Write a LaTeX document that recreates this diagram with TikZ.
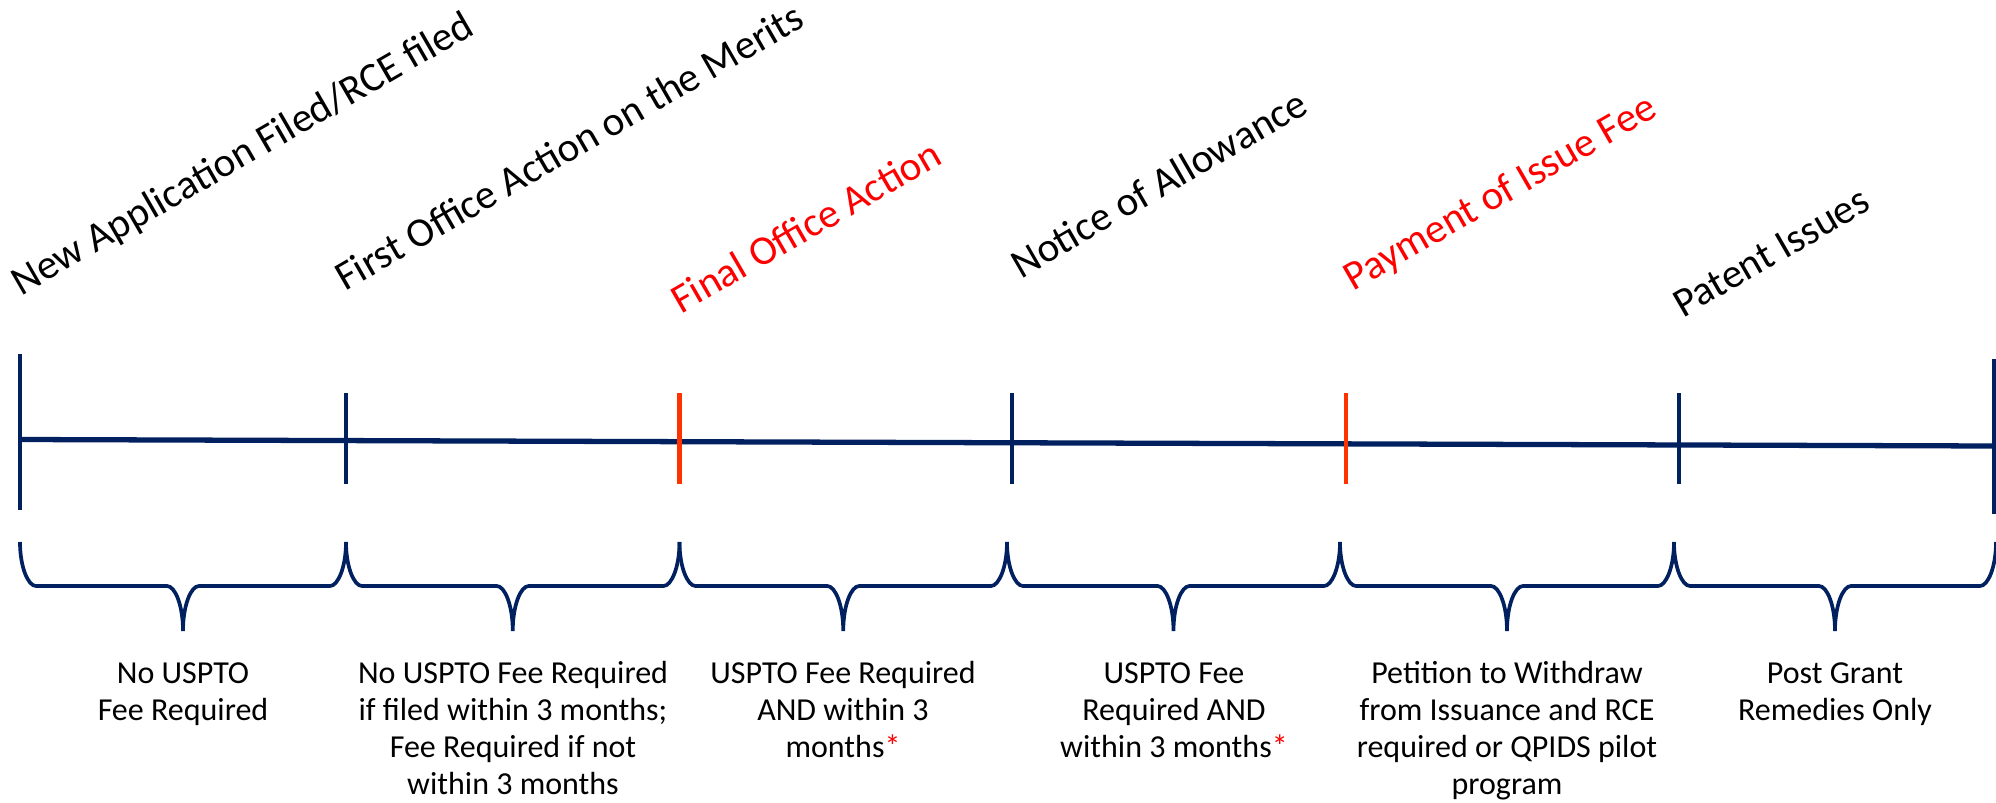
\documentclass[tikz,border=0pt]{standalone}
\usepackage{fontspec}
\setmainfont{Carlito}
\definecolor{navy}{HTML}{002060}
\definecolor{tickred}{HTML}{FF3300}
\tikzset{
  stage/.style={rotate=30,anchor=base west,inner sep=0pt,font=\fontsize{11.7}{13}\selectfont},
  remark/.style={align=center,anchor=base,inner sep=0pt,font=\fontsize{9.1}{10.6}\selectfont},
  tick/.style={line width=1.15pt},
  bracket/.style={navy,line width=1.05pt},
}
\newcommand{\redstar}{\textcolor{red}{*}}

\begin{document}
\begin{tikzpicture}[x=0.01cm,y=-0.01cm]
\useasboundingbox (0,0) rectangle (1996,803);

\coordinate (start) at (20,439.5);
\coordinate (end) at (1994,446);
\draw[navy,line width=1.5pt] (start) -- (end);
\draw[navy,tick] (20,354) -- (20,510);
\draw[navy,tick] (1994,359) -- (1994,514);
\foreach \x/\c in {346/navy,679.5/tickred,1012/navy,1346/tickred,1679/navy}{
	\draw[\c,tick] (\x,393) -- (\x,484);
	}

\foreach \a/\b in {20/346,346/679.5,679.5/1007,1007/1340,1340/1674,1674/1996}{
	\pgfmathsetmacro{\m}{(\a+\b)/2}
	\draw[bracket] (\a,542) .. controls (\a,567) and (\a+8,586) .. (\a+16,586) -- (\m-16,586)
		.. controls (\m-8,586) and (\m,605) .. (\m,631) .. controls (\m,605) and (\m+8,586) .. (\m+16,586)
		-- (\b-16,586) .. controls (\b-8,586) and (\b,567) .. (\b,542);
	}

\node[stage] (filed) at (20.5,296.5) {New Application Filed/RCE filed};
\node[stage] (first) at (345,292) {First Office Action on the Merits};
\node[stage,red] (final) at (681,314.5) {Final Office Action};
\node[stage] (allow) at (1020.5,279.5) {Notice of Allowance};
\node[stage,red] (pay) at (1353,292) {Payment of Issue Fee};
\node[stage] (issue) at (1682.5,318.5) {Patent Issues};

% base anchor sits on the last line
\node[remark] (nofee) at (183,720.3) {No USPTO\\Fee Required};
\node[remark] (grace) at (513,794.9) {No USPTO Fee Required\\if filed within 3 months;\\Fee Required if not\\within 3 months};
\node[remark] (feea) at (843,757.6) {USPTO Fee Required\\AND within 3\\months\redstar};
\node[remark] (feeb) at (1174,757.6) {USPTO Fee\\Required AND\\within 3 months\redstar};
\node[remark] (petition) at (1507,794.9) {Petition to Withdraw\\from Issuance and RCE\\required or QPIDS pilot\\program};
\node[remark] (post) at (1835,720.3) {Post Grant\\Remedies Only};
\end{tikzpicture}
\end{document}
